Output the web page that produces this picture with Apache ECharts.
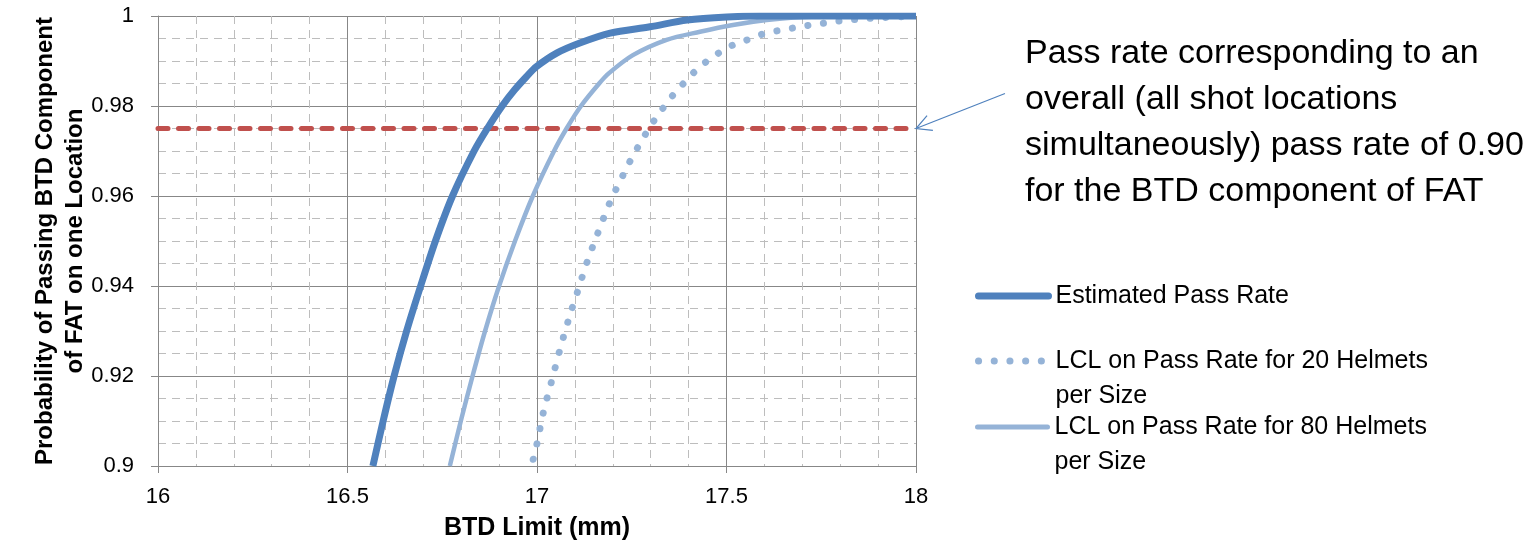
<!DOCTYPE html>
<html>
<head>
<meta charset="utf-8">
<script src="https://cdn.jsdelivr.net/npm/echarts@6/dist/echarts.min.js"></script>
<style>
html,body{margin:0;padding:0;background:#fff;}
#chart{width:1538px;height:559px;}
</style>
</head>
<body>
<div id="chart"></div>
<script>
// ---- data ----
const xTicks = [16, 16.5, 17, 17.5, 18];
const yTicks = [0.9, 0.92, 0.94, 0.96, 0.98, 1];

const estX = [16.567,16.594,16.623,16.656,16.693,16.732,16.777,16.834,16.869,16.908,16.941,16.972,16.998,17.053,17.113,17.193,17.298,17.396,17.501,17.588,18];
const estY = [0.900,0.910,0.920,0.930,0.940,0.950,0.960,0.970,0.975,0.980,0.9836,0.9865,0.9887,0.9918,0.9940,0.9962,0.9976,0.9991,0.9998,1.0,1.0];

const lcl20X = [16.99,17.0,17.017,17.039,17.061,17.085,17.111,17.124,17.138,17.153,17.169,17.184,17.201,17.220,17.239,17.259,17.281,17.303,17.328,17.354,17.382,17.412,17.443,17.478,17.516,17.555,17.596,17.639,17.680,17.722,17.765,17.807,17.850,17.9,17.95,18.0];
const lcl20Y = [0.9015,0.905,0.912,0.919,0.926,0.933,0.9398,0.9433,0.9467,0.9501,0.9536,0.9569,0.9602,0.9634,0.9667,0.9698,0.9730,0.9760,0.9790,0.9819,0.9846,0.9873,0.9896,0.9917,0.9935,0.9947,0.9960,0.9968,0.9974,0.9980,0.9985,0.9990,0.9993,0.9996,0.9998,1.0];

const lcl80X = [16.770,16.799,16.830,16.863,16.900,16.942,16.989,17.045,17.078,17.116,17.164,17.190,17.253,17.342,17.430,17.517,17.606,17.694,17.799,18];
const lcl80Y = [0.900,0.910,0.920,0.930,0.940,0.950,0.960,0.970,0.975,0.980,0.985,0.9873,0.9913,0.9947,0.9965,0.9980,0.9991,0.9997,1.0,1.0];

const targetX = [16, 18];
const targetY = [0.975, 0.975];

const seriesNames = ['Estimated Pass Rate', 'LCL on Pass Rate for 20 Helmets per Size', 'LCL on Pass Rate for 80 Helmets per Size'];
const annotationText = ['Pass rate corresponding to an', 'overall (all shot locations', 'simultaneously) pass rate of 0.90', 'for the BTD component of FAT'];
const xName = 'BTD Limit (mm)';
const yName = 'Probability of Passing BTD Component\nof FAT on one Location';

function zip(a, b) { return a.map((v, i) => [v, b[i]]); }

const FONT = '"Liberation Sans", Arial, sans-serif';
const GRID_MAJOR = '#878787';
const GRID_MINOR = '#bdbdbd';
const DARK = '#4f81bd';
const LIGHT = '#95b3d7';
const RED = '#c0504d';

const chart = echarts.init(document.getElementById('chart'));

function legendCfg(name, top, twoLine, lineStyle) {
  return {
    data: [name],
    left: 975,
    top: top,
    padding: 0,
    itemWidth: 70,
    itemHeight: 8,
    itemGap: 0,
    selectedMode: false,
    itemStyle: { opacity: 0 },
    lineStyle: lineStyle,
    formatter: n => twoLine ? '\n' + n.replace(' per Size', '\nper Size') : n,
    textStyle: { fontFamily: FONT, fontSize: 25, color: '#000', lineHeight: 35, padding: [0, 0, 0, 2] }
  };
}

const option = {
  animation: false,
  backgroundColor: '#fff',
  grid: { left: 158, right: 622, top: 16, bottom: 93, containLabel: false },
  legend: [
    legendCfg(seriesNames[0], 296 - 17.5, false, { width: 7, cap: 'round', color: DARK }),
    legendCfg(seriesNames[1], 361 - 52.5, true, { width: 7, cap: 'round', color: LIGHT, type: [0.1, 15.6] }),
    legendCfg(seriesNames[2], 427 - 52.5, true, { width: 5, cap: 'round', color: LIGHT })
  ],
  xAxis: {
    type: 'value',
    min: xTicks[0], max: xTicks[xTicks.length - 1], interval: 0.5,
    name: xName, nameLocation: 'middle', nameGap: 50,
    nameTextStyle: { fontFamily: FONT, fontSize: 25, fontWeight: 'bold', color: '#000' },
    axisLine: { show: true, lineStyle: { color: GRID_MAJOR, width: 1 } },
    axisTick: { show: true, length: 7, lineStyle: { color: GRID_MAJOR } },
    axisLabel: { fontFamily: FONT, fontSize: 22, color: '#000', margin: 20 },
    splitLine: { show: true, lineStyle: { color: GRID_MAJOR, width: 1 } },
    minorTick: { show: false, splitNumber: 5 },
    minorSplitLine: { show: true, lineStyle: { color: GRID_MINOR, width: 1, type: [8, 6] } }
  },
  yAxis: {
    type: 'value',
    min: yTicks[0], max: yTicks[yTicks.length - 1], interval: 0.02,
    name: yName, nameLocation: 'middle', nameGap: 68, nameRotate: 90, nameMoveOverlap: false,
    nameTextStyle: { fontFamily: FONT, fontSize: 24, fontWeight: 'bold', color: '#000', lineHeight: 30, align: 'center' },
    axisLine: { show: true, lineStyle: { color: GRID_MAJOR, width: 1 } },
    axisTick: { show: true, length: 7, lineStyle: { color: GRID_MAJOR } },
    axisLabel: { fontFamily: FONT, fontSize: 22, color: '#000', margin: 24 },
    splitLine: { show: true, lineStyle: { color: GRID_MAJOR, width: 1 } },
    minorTick: { show: false, splitNumber: 4 },
    minorSplitLine: { show: true, lineStyle: { color: GRID_MINOR, width: 1, type: [8, 6] } }
  },
  series: [
    {
      name: 'Target', type: 'line', data: zip(targetX, targetY), symbol: 'none', silent: true,
      lineStyle: { color: RED, width: 5, type: [10, 10.5], cap: 'round' }, z: 2
    },
    {
      name: seriesNames[1], type: 'line', data: zip(lcl20X, lcl20Y), symbol: 'none',
      smooth: 0.3,
      lineStyle: { color: LIGHT, width: 7, type: [0.1, 15.6], cap: 'round' }, itemStyle: { color: LIGHT }, z: 3
    },
    {
      name: seriesNames[2], type: 'line', data: zip(lcl80X, lcl80Y), symbol: 'none',
      smooth: 0.3,
      lineStyle: { color: LIGHT, width: 4.5 }, itemStyle: { color: LIGHT }, z: 4
    },
    {
      name: seriesNames[0], type: 'line', data: zip(estX, estY), symbol: 'none',
      smooth: 0.3,
      lineStyle: { color: DARK, width: 7 }, itemStyle: { color: DARK }, z: 5
    }
  ]
};
chart.setOption(option);

// annotation arrow pointing at the target line's right end
const tip = chart.convertToPixel({ xAxisIndex: 0, yAxisIndex: 0 }, [targetX[1], targetY[1]]);
const start = [tip[0] + 89, tip[1] - 35];
const dx = start[0] - tip[0], dy = start[1] - tip[1];
const len = Math.sqrt(dx * dx + dy * dy);
const ux = dx / len, uy = dy / len;
const headLen = 17, ang = 28 * Math.PI / 180;
function rot(x, y, a) { return [x * Math.cos(a) - y * Math.sin(a), x * Math.sin(a) + y * Math.cos(a)]; }
const h1 = rot(ux, uy, ang), h2 = rot(ux, uy, -ang);

chart.setOption({
  graphic: [
    {
      type: 'text', left: 1025, top: 31, silent: true,
      style: { text: annotationText.join('\n'), font: '34px ' + FONT, fill: '#000', lineHeight: 46 }
    },
    {
      type: 'polyline', silent: true,
      shape: { points: [start, tip] },
      style: { stroke: DARK, lineWidth: 1.2, fill: null }
    },
    {
      type: 'polyline', silent: true,
      shape: { points: [[tip[0] + h1[0] * headLen, tip[1] + h1[1] * headLen], tip, [tip[0] + h2[0] * headLen, tip[1] + h2[1] * headLen]] },
      style: { stroke: DARK, lineWidth: 1.2, fill: null }
    }
  ]
});
</script>
</body>
</html>
